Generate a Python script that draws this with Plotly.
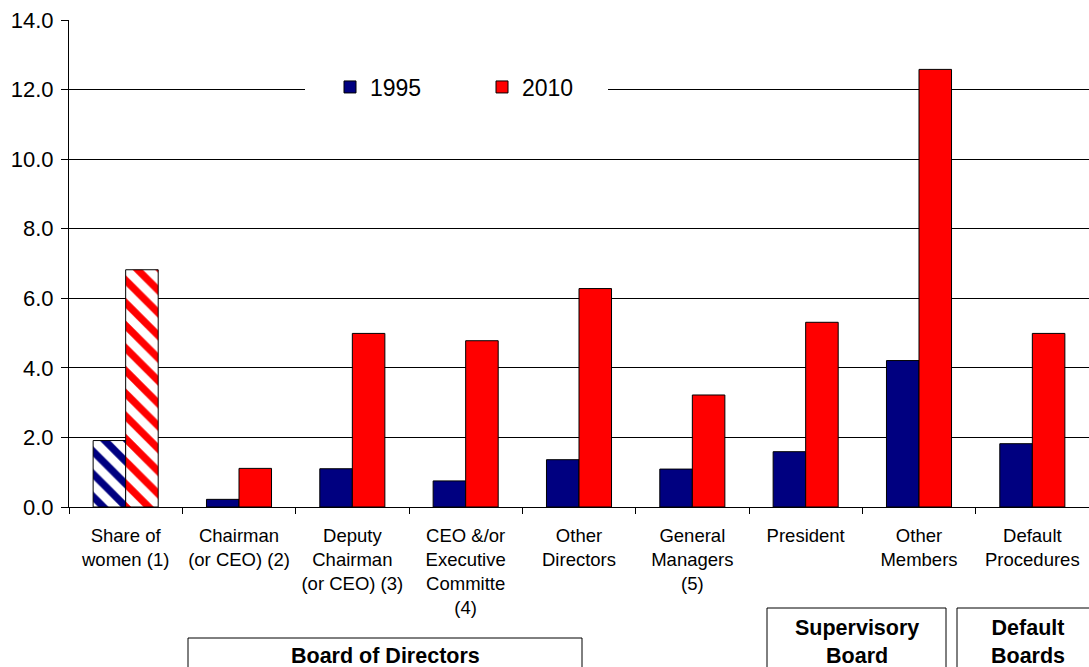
import plotly.graph_objects as go

categories = [
    "Share of<br>women (1)",
    "Chairman<br>(or CEO) (2)",
    "Deputy<br>Chairman<br>(or CEO) (3)",
    "CEO &/or<br>Executive<br>Committe<br>(4)",
    "Other<br>Directors",
    "General<br>Managers<br>(5)",
    "President",
    "Other<br>Members",
    "Default<br>Procedures",
]
values_1995 = [1.91, 0.22, 1.10, 0.75, 1.36, 1.09, 1.59, 4.21, 1.82]
values_2010 = [6.82, 1.11, 4.99, 4.78, 6.28, 3.22, 5.31, 12.58, 4.99]
series_names = ["1995", "2010"]
y_ticks = [0, 2, 4, 6, 8, 10, 12, 14]
group_labels = ["Board of Directors", "Supervisory<br>Board", "Default<br>Boards"]

BLUE = "#000080"
RED = "#FF0000"
FONT = "Liberation Sans, Arial, sans-serif"

W, H = 1089, 667
L, R, T, B = 69, 0, 20, 160
PW = W - L - R
PH = H - T - B


def px_x(x):
    return (x - L) / PW


def px_y(y):
    return (H - B - y) / PH


# first category is hatched; feed it last so the legend swatch stays solid
order = list(range(1, len(categories))) + [0]
patterns = ["\\" if i == 0 else "" for i in order]

fig = go.Figure()
for name, vals, col in [(series_names[0], values_1995, BLUE), (series_names[1], values_2010, RED)]:
    fig.add_trace(go.Bar(
        name=name,
        x=[categories[i] for i in order],
        y=[vals[i] for i in order],
        marker=dict(
            color=col,
            line=dict(color="black", width=1),
            pattern=dict(shape=patterns, fillmode="replace", bgcolor="white",
                         fgcolor=col, size=16, solidity=0.45),
        ),
    ))

shapes = [
    # white backing behind the legend, interrupting the 12.0 gridline
    dict(type="rect", xref="paper", yref="paper", layer="above",
         x0=px_x(305), x1=px_x(608), y0=px_y(100), y1=px_y(74),
         line=dict(width=0), fillcolor="white"),
]
annotations = []
boxes = [
    (group_labels[0], 188, 582, 638, 656),
    (group_labels[1], 767, 946, 608, 642),
    (group_labels[2], 957, 1100, 608, 642),
]
for text, x0, x1, y0, ty in boxes:
    shapes.append(dict(type="rect", xref="paper", yref="paper",
                       x0=px_x(x0), x1=px_x(x1), y0=px_y(y0), y1=px_y(H + 20),
                       line=dict(color="black", width=1), fillcolor="rgba(0,0,0,0)"))
    annotations.append(dict(text="<b>" + text + "</b>", xref="paper", yref="paper",
                            x=px_x((x0 + min(x1, 1098)) / 2), y=px_y(ty),
                            xanchor="center", yanchor="middle", showarrow=False,
                            font=dict(size=21.5, family=FONT, color="black")))

fig.update_layout(
    width=W, height=H,
    margin=dict(l=L, r=R, t=T, b=B, pad=0),
    paper_bgcolor="white", plot_bgcolor="white",
    font=dict(family=FONT, color="black"),
    barmode="group", bargap=0.426, bargroupgap=0,
    showlegend=True,
    legend=dict(orientation="h", x=px_x(330), xanchor="left", y=px_y(87), yanchor="middle",
                bgcolor="rgba(0,0,0,0)", borderwidth=0, font=dict(size=23, family=FONT),
                entrywidth=107, entrywidthmode="pixels"),
    shapes=shapes,
    annotations=annotations,
)
fig.update_xaxes(categoryorder="array", categoryarray=categories,
                 showline=True, linecolor="black", linewidth=1, ticks="outside",
                 tickson="boundaries", ticklen=6, tickcolor="black", ticklabelstandoff=12,
                 tickfont=dict(size=18.5, family=FONT, color="black"), showgrid=False)
fig.update_yaxes(range=[0, 14], tickvals=y_ticks, tickformat=".1f", showline=True,
                 linecolor="black", linewidth=1, ticks="outside", ticklen=7,
                 tickcolor="black", gridcolor="black", gridwidth=1, zeroline=False,
                 tickfont=dict(size=22, family=FONT, color="black"), ticklabelstandoff=3)

fig.write_html("out.html")
